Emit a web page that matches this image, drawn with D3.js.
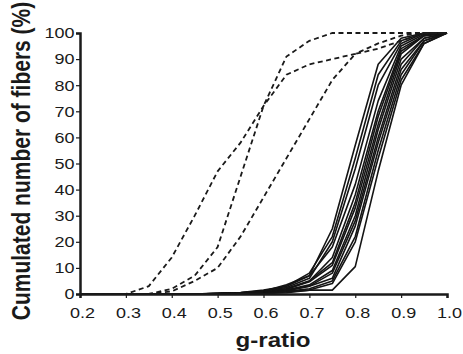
<!DOCTYPE html>
<html lang="en">
<head>
<meta charset="utf-8">
<script src="https://d3js.org/d3.v7.min.js"></script>
<style>
  body { margin: 0; background: #fff; }
  text { font-family: "Liberation Sans", Arial, sans-serif; fill: #1a1a1a; }
</style>
</head>
<body>
<script>
// g-ratio bins (0.05 steps)
var gRatio = [0.2, 0.25, 0.3, 0.35, 0.4, 0.45, 0.5, 0.55, 0.6, 0.65, 0.7, 0.75, 0.8, 0.85, 0.9, 0.95, 1.0];

// dashed curves (cumulated %)
var dashA = [0, 0, 0, 3, 14, 30, 47, 58, 72, 84, 88, 90, 92, 96, 99, 100, 100];
var dashB = [0, 0, 0, 0, 2, 7, 18, 45, 72, 91, 97, 100, 100, 100, 100, 100, 100];
var dashC = [0, 0, 0, 0, 1, 5, 10, 22, 37, 52, 67, 82, 92, 94, 97, 100, 100];
var dashedSeries = [dashA, dashB, dashC];

// solid curves (cumulated %)
var solid1  = [0, 0, 0, 0, 0, 0, 0.3, 0.6, 1.5, 3.0, 7.0, 25, 57, 88, 98, 100, 100];
var solid2  = [0, 0, 0, 0, 0, 0, 0.3, 0.5, 1.2, 3.0, 8.0, 22, 52, 84, 97, 100, 100];
var solid3  = [0, 0, 0, 0, 0, 0, 0.2, 0.5, 1.0, 2.5, 6.0, 20, 48, 80, 96, 100, 100];
var solid4  = [0, 0, 0, 0, 0, 0, 0.2, 0.5, 1.0, 3.5, 7.0, 18, 42, 74, 95, 99.5, 100];
var solid5  = [0, 0, 0, 0, 0, 0, 0.2, 0.4, 0.8, 2.0, 5.0, 14, 38, 70, 94, 99, 100];
var solid6  = [0, 0, 0, 0, 0, 0, 0.1, 0.4, 0.8, 2.0, 5.0, 12, 35, 68, 93, 99, 100];
var solid7  = [0, 0, 0, 0, 0, 0, 0.1, 0.3, 0.6, 1.8, 4.7, 11, 33, 65, 92, 99, 100];
var solid8  = [0, 0, 0, 0, 0, 0, 0.1, 0.3, 0.5, 1.5, 3.5, 9, 30, 63, 90, 98, 100];
var solid9  = [0, 0, 0, 0, 0, 0, 0.1, 0.2, 0.5, 1.5, 3.0, 8, 28, 60, 88, 98, 100];
var solid10 = [0, 0, 0, 0, 0, 0, 0.1, 0.2, 0.4, 1.2, 3.0, 6, 26, 58, 86, 97, 100];
var solid11 = [0, 0, 0, 0, 0, 0, 0, 0.2, 0.3, 1.0, 2.0, 5, 22, 55, 84, 97, 100];
var solid12 = [0, 0, 0, 0, 0, 0, 0, 0.1, 0.3, 0.8, 1.5, 4, 20, 52, 82, 96, 100];
var solid13 = [0, 0, 0, 0, 0, 0, 0, 0.1, 0.2, 0.5, 1.5, 1.5, 10.5, 47, 80, 96, 100];
var solidSeries = [solid1, solid2, solid3, solid4, solid5, solid6, solid7,
                   solid8, solid9, solid10, solid11, solid12, solid13];

var xTicks = [0.2, 0.3, 0.4, 0.5, 0.6, 0.7, 0.8, 0.9, 1.0];
var yTicks = [0, 10, 20, 30, 40, 50, 60, 70, 80, 90, 100];

var width = 463, height = 354;
var stretch = 1.2;   // the original lettering is wide for its height

var svg = d3.select("body").append("svg")
            .attr("width", width)
            .attr("height", height);

var x = d3.scaleLinear().domain([0.2, 1.0]).range([80, 447]);
var y = d3.scaleLinear().domain([0, 100]).range([294, 33]);

var line = d3.line()
             .x(function(d, i) { return x(gRatio[i]); })
             .y(function(d) { return y(d); });

// solid curves
svg.selectAll(".solid").data(solidSeries).enter().append("path")
   .attr("class", "solid")
   .attr("d", line)
   .attr("fill", "none")
   .attr("stroke", "#141414")
   .attr("stroke-width", 1.6)
   .attr("stroke-linejoin", "round");

// dashed curves
svg.selectAll(".dashed").data(dashedSeries).enter().append("path")
   .attr("class", "dashed")
   .attr("d", line)
   .attr("fill", "none")
   .attr("stroke", "#1a1a1a")
   .attr("stroke-width", 1.8)
   .attr("stroke-dasharray", "5,3.5");

// x axis: minor ticks every 0.05
var xAxis = svg.append("g").attr("transform", "translate(0," + y(0) + ")");
xAxis.call(d3.axisBottom(x).tickValues(d3.range(0.2, 1.001, 0.05)).tickSize(3).tickFormat(""));
xAxis.call(d3.axisBottom(x).tickValues(xTicks).tickSize(4).tickFormat(d3.format(".1f")));
xAxis.selectAll(".domain").attr("stroke", "#1a1a1a").attr("stroke-width", 2.5);
xAxis.selectAll(".tick line").attr("stroke", "#1a1a1a").attr("stroke-width", 1.2);
xAxis.selectAll("text")
     .attr("font-size", 15)
     .attr("y", 24)
     .attr("dy", 0)
     .attr("x", 2 / stretch)
     .attr("transform", "scale(" + stretch + ",1)")
     .style("font-family", "'Liberation Sans', Arial, sans-serif")
     .attr("fill", "#1a1a1a");

// y axis: minor ticks every 5
var yAxis = svg.append("g").attr("transform", "translate(" + x(0.2) + ",0)");
yAxis.call(d3.axisLeft(y).tickValues(d3.range(0, 101, 5)).tickSize(3).tickFormat(""));
yAxis.call(d3.axisLeft(y).tickValues(yTicks).tickSize(4));
yAxis.selectAll(".domain").attr("stroke", "#1a1a1a").attr("stroke-width", 2.5);
yAxis.selectAll(".tick line").attr("stroke", "#1a1a1a").attr("stroke-width", 1.2);
yAxis.selectAll("text")
     .attr("font-size", 15)
     .attr("x", -5.5 / stretch)
     .attr("transform", "scale(" + stretch + ",1)")
     .style("font-family", "'Liberation Sans', Arial, sans-serif")
     .attr("fill", "#1a1a1a");

// axis titles
svg.append("text")
   .attr("transform", "translate(273,347) scale(1.15,1)")
   .attr("text-anchor", "middle")
   .attr("font-size", 21)
   .attr("font-weight", "bold")
   .text("g-ratio");

svg.append("text")
   .attr("transform", "translate(30,161) scale(" + stretch + ",1) rotate(-90)")
   .attr("text-anchor", "middle")
   .attr("font-size", 21)
   .attr("font-weight", "bold")
   .text("Cumulated number of fibers (%)");
</script>
</body>
</html>
